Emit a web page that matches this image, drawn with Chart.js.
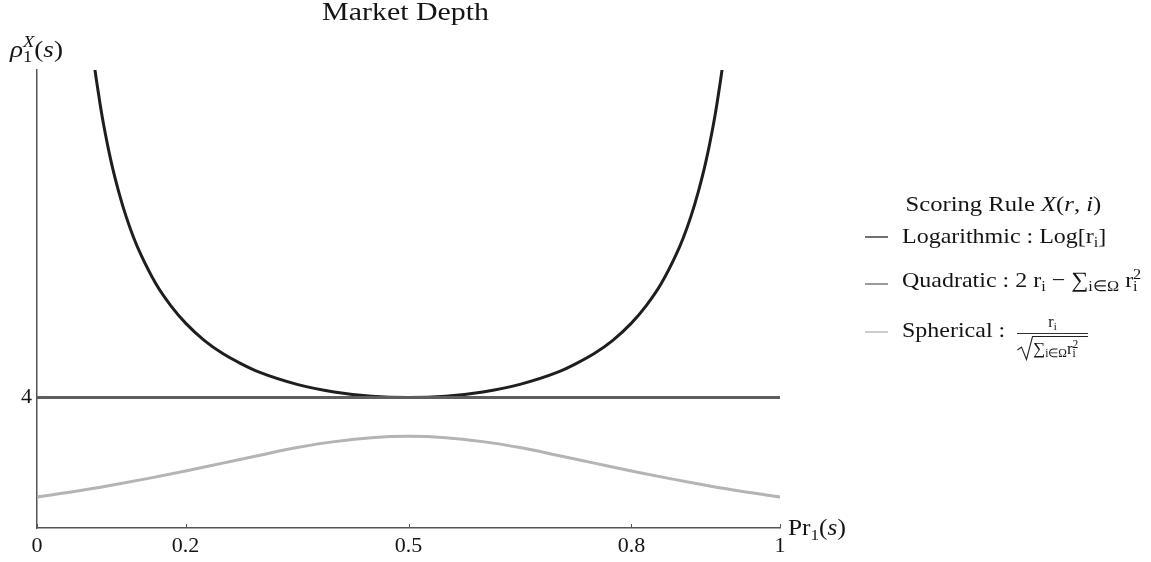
<!DOCTYPE html>
<html>
<head>
<meta charset="utf-8">
<title>Market Depth</title>
<script src="https://cdn.jsdelivr.net/npm/chart.js@4.4.0/dist/chart.umd.min.js"></script>
<style>
  html, body { margin: 0; padding: 0; background: #fff; }
  #wrap { position: relative; width: 1151px; height: 562px; overflow: hidden;
          font-family: "Liberation Serif", "Times New Roman", serif; color: #141414; }
  #wrap canvas { position: absolute; left: 0; top: 0; }
  .t { position: absolute; white-space: nowrap; line-height: 1; transform-origin: 0 0; }
  .c { text-align: center; }
  .c > span { display: inline-block; transform-origin: 50% 0; }
  .sb { font-size: 0.68em; position: relative; top: 0.32em; }
  .sp { font-size: 0.68em; position: relative; top: -0.5em; }
  .it { font-style: italic; }
  .sw { position: absolute; width: 23px; height: 2px; left: 865px; }
</style>
</head>
<body>
<div id="wrap">
  <canvas id="chart" width="1151" height="562"></canvas>

  <div class="t c" style="left:0; width:812px; top:-1px; font-size:26px;"><span style="transform:scaleX(1.15)">Market Depth</span></div>

  <div class="t" style="left:10px; top:37px; font-size:24px; transform:scaleX(1.13)"><span class="it">ρ</span><span class="sb">1</span><span class="sp it" style="margin-left:-0.5em; top:-0.62em">X</span>(<span class="it">s</span>)</div>
  <div class="t" style="left:788px; top:515.7px; font-size:23px; transform:scaleX(1.1)">Pr<span class="sb">1</span>(<span class="it">s</span>)</div>

  <!-- legend -->
  <div class="t c" style="left:893px; width:220px; top:192.6px; font-size:22px;"><span style="transform:scaleX(1.12)">Scoring Rule <span class="it">X</span>(<span class="it">r</span>, <span class="it">i</span>)</span></div>

  <div class="sw" style="top:236px; background:#707070;"></div>
  <div class="t" style="left:902px; top:224.6px; font-size:22px; transform:scaleX(1.09)">Logarithmic : Log[r<span class="sb">i</span>]</div>

  <div class="sw" style="top:283px; background:#9a9a9a;"></div>
  <div class="t" style="left:902px; top:268.6px; font-size:22px; transform:scaleX(1.09)">Quadratic : 2 r<span class="sb">i</span> − ∑<span class="sb">i∈Ω</span> r<span class="sb">i</span><span class="sp" style="margin-left:-0.28em">2</span></div>

  <div class="sw" style="top:331px; background:#cccccc;"></div>
  <div class="t" style="left:902px; top:318.6px; font-size:22px; transform:scaleX(1.09)">Spherical :</div>
  <div class="t c" style="left:1017px; width:71px; top:314px; font-size:16px;"><span>r<span class="sb">i</span></span></div>
  <div style="position:absolute; left:1017px; top:333px; width:71px; height:1px; background:#333;"></div>
  <svg style="position:absolute; left:1017px; top:335px;" width="72" height="26">
    <path d="M0.5,15 L4.5,12 L9.5,24.5 L15.5,1.5 L71,1.5" stroke="#222" stroke-width="1.1" fill="none"/>
  </svg>
  <div class="t" style="left:1033px; top:339.8px; font-size:17px;">∑<span class="sb">i∈Ω</span>r<span class="sb">i</span><span class="sp" style="margin-left:-0.28em">2</span></div>
</div>

<script>
// Axis ticks
const xTicks = [0, 0.2, 0.5, 0.8, 1];
const yTicks = [4];

// Logarithmic rule: market depth against Pr1(s)
const logP = [0.07, 0.075, 0.08, 0.085, 0.09, 0.1, 0.11, 0.12, 0.13, 0.14, 0.16, 0.18, 0.2,
              0.225, 0.25, 0.275, 0.3, 0.35, 0.4, 0.45, 0.5, 0.55, 0.6, 0.65, 0.7, 0.725,
              0.75, 0.775, 0.8, 0.82, 0.84, 0.86, 0.87, 0.88, 0.89, 0.9, 0.91, 0.915, 0.92,
              0.925, 0.93];
const logDepth = [15.36, 14.41, 13.59, 12.86, 12.21, 11.11, 10.22, 9.47, 8.84, 8.31, 7.44, 6.78, 6.25,
                  5.73, 5.33, 5.02, 4.76, 4.40, 4.17, 4.04, 4.00, 4.04, 4.17, 4.40, 4.76, 5.02,
                  5.33, 5.73, 6.25, 6.78, 7.44, 8.31, 8.84, 9.47, 10.22, 11.11, 12.21, 12.86, 13.59,
                  14.41, 15.36];

// Quadratic rule: flat depth
const quadP = [0, 1];
const quadDepth = [4, 4];

// Spherical rule
const sphP = [0, 0.05, 0.1, 0.15, 0.2, 0.25, 0.3, 0.35, 0.4, 0.45, 0.5,
              0.55, 0.6, 0.65, 0.7, 0.75, 0.8, 0.85, 0.9, 0.95, 1];
const sphDepth = [1.00, 1.16, 1.35, 1.56, 1.78, 2.02, 2.26, 2.49, 2.67, 2.79, 2.83,
                  2.79, 2.67, 2.49, 2.26, 2.02, 1.78, 1.56, 1.35, 1.16, 1.00];

const seriesNames = ['Logarithmic', 'Quadratic', 'Spherical'];
const seriesColors = ['#1e1e1e', '#5f5f5f', '#b4b4b4'];

const toPoints = (xs, ys) => xs.map((x, i) => ({ x, y: ys[i] }));

// Mathematica-style tick marks that point into the plot
const inwardTicks = {
  id: 'inwardTicks',
  afterDraw(chart) {
    const { ctx, chartArea: a, scales: { x, y } } = chart;
    ctx.save();
    ctx.strokeStyle = '#555';
    ctx.lineWidth = 1;
    x.ticks.forEach(t => {
      const px = Math.round(x.getPixelForValue(t.value)) + 0.5;
      ctx.beginPath(); ctx.moveTo(px, a.bottom); ctx.lineTo(px, a.bottom - 4); ctx.stroke();
    });
    y.ticks.forEach(t => {
      const py = Math.round(y.getPixelForValue(t.value)) + 0.5;
      ctx.beginPath(); ctx.moveTo(a.left, py); ctx.lineTo(a.left + 4, py); ctx.stroke();
    });
    ctx.restore();
  }
};

const tickFont = { family: 'Liberation Serif', size: 22 };

new Chart(document.getElementById('chart'), {
  type: 'line',
  data: {
    datasets: [
      { label: seriesNames[0], data: toPoints(logP, logDepth), borderColor: seriesColors[0],
        borderWidth: 3, order: 3, cubicInterpolationMode: 'monotone' },
      { label: seriesNames[1], data: toPoints(quadP, quadDepth), borderColor: seriesColors[1],
        borderWidth: 3, order: 2 },
      { label: seriesNames[2], data: toPoints(sphP, sphDepth), borderColor: seriesColors[2],
        borderWidth: 3, order: 1, cubicInterpolationMode: 'monotone' }
    ]
  },
  options: {
    responsive: false,
    animation: false,
    devicePixelRatio: 1,
    elements: { point: { radius: 0 }, line: { fill: false } },
    layout: { padding: { left: 0, top: 70, right: 371, bottom: 0 } },
    plugins: { legend: { display: false }, tooltip: { enabled: false }, title: { display: false } },
    scales: {
      x: {
        type: 'linear', min: 0, max: 1,
        grid: { display: false, drawTicks: false },
        border: { display: true, color: '#555', width: 1.5 },
        ticks: { padding: 5, color: '#141414', font: tickFont, autoSkip: false, maxRotation: 0,
                 callback: v => String(v) },
        afterBuildTicks: s => { s.ticks = xTicks.map(v => ({ value: v })); },
        afterFit: s => { s.height = 34; }
      },
      y: {
        type: 'linear', min: 0.06, max: 13.9,
        grid: { display: false, drawTicks: false },
        border: { display: true, color: '#555', width: 1.5 },
        ticks: { padding: 5, color: '#141414', font: tickFont, callback: v => String(v) },
        afterBuildTicks: s => { s.ticks = yTicks.map(v => ({ value: v })); },
        afterFit: s => { s.width = 37; }
      }
    }
  },
  plugins: [inwardTicks]
});
</script>
</body>
</html>
